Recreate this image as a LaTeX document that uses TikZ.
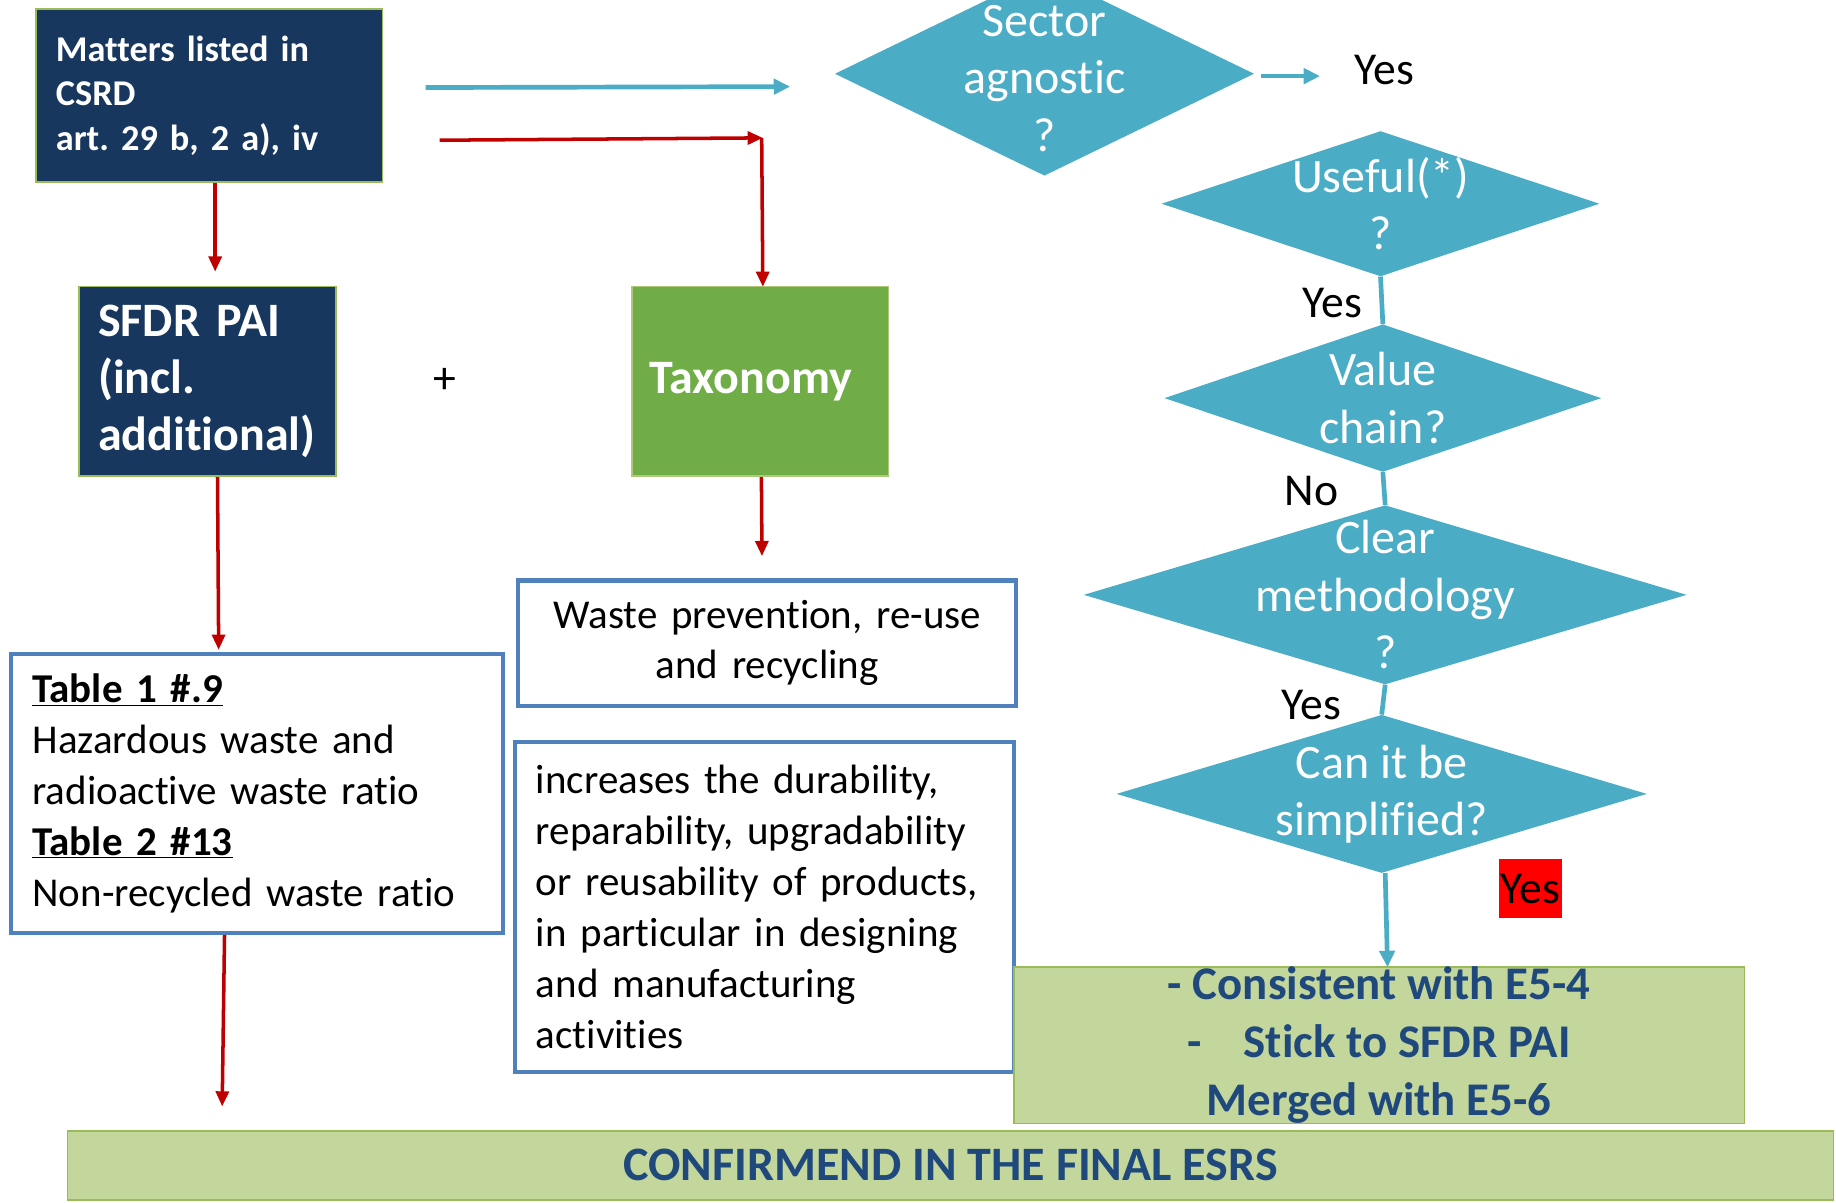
\documentclass[tikz,border=0pt]{standalone}
\usepackage{fontspec}
\setmainfont{Carlito}[Ligatures=NoCommon]
\usetikzlibrary{arrows.meta,shapes.geometric,calc}
\frenchspacing

\definecolor{navyfill}{HTML}{17375E}
\definecolor{olivegreen}{HTML}{9BBB59}
\definecolor{flowcyan}{HTML}{4BACC6}
\definecolor{arrowred}{HTML}{C00000}
\definecolor{boxblue}{HTML}{4F81BD}
\definecolor{taxgreen}{HTML}{70AD47}
\definecolor{palegreen}{HTML}{C3D69B}
\definecolor{inknavy}{HTML}{1F497D}
\definecolor{flagred}{HTML}{FF0000}

\tikzset{
  navybox/.style={draw=olivegreen, line width=1.5pt, fill=navyfill, text=white,
    inner sep=0pt, anchor=north west, align=left},
  taxbox/.style={draw=olivegreen!80!white, line width=1.5pt, fill=taxgreen, text=white,
    inner sep=0pt, anchor=north west, align=center},
  bluebox/.style={draw=boxblue, line width=3.5pt, fill=white, text=black,
    inner sep=0pt, anchor=north west},
  greenbox/.style={draw=olivegreen, line width=1.5pt, fill=palegreen, text=inknavy,
    inner sep=0pt, anchor=north west, align=center},
  dia/.style={diamond, fill=flowcyan, draw=none, inner sep=0pt},
  diatext/.style={text=white, align=center, inner sep=0pt,
    font=\fontsize{41}{49}\selectfont},
  lbl/.style={text=black, inner sep=0pt, font=\fontsize{39}{45}\selectfont},
  cyanarrow/.style={draw=flowcyan, line width=4pt,
    -{Triangle[length=14pt,width=13pt]}},
  cyanline/.style={draw=flowcyan, line width=4pt},
  redarrow/.style={draw=arrowred, line width=3pt,
    -{Triangle[length=13pt,width=11pt]}},
}

\begin{document}
\begin{tikzpicture}[x=1pt,y=-1pt]
\useasboundingbox (0,0) rectangle (1568,1027);
\clip (0,0) rectangle (1568,1027);

% --- left column -------------------------------------------------------
\node[navybox, minimum width=296pt, minimum height=148pt, text width=262pt,
      font=\bfseries\fontsize{31}{38}\selectfont] (csrd) at (30,7)
  {Matters listed in\\CSRD\\art. 29 b, 2 a), iv};

\node[navybox, minimum width=219pt, minimum height=162pt, text width=187pt,
      font=\bfseries\fontsize{41}{49}\selectfont] (sfdr) at (67,244)
  {SFDR PAI\\(incl.\\additional)};

\node[lbl] (plus) at (380,325) {+};

\node[taxbox, minimum width=219pt, minimum height=162pt,
      font=\bfseries\fontsize{41}{47}\selectfont] (tax) at (539,244)
  {Taxonomy\hspace*{16pt}};

\node[bluebox, minimum width=420pt, minimum height=238pt, text width=384pt,
      align=left, font=\fontsize{35}{43.5}\selectfont] (table) at (8,557)
  {\textbf{\underline{Table 1 \#.9}}\\Hazardous waste and\\radioactive waste ratio\\
   \textbf{\underline{Table 2 \#13}}\\Non-recycled waste ratio};

\node[bluebox, minimum width=425pt, minimum height=107pt, text width=400pt,
      align=center, font=\fontsize{35}{43}\selectfont] (waste) at (441,494)
  {Waste prevention, re-use\\and recycling};

\node[bluebox, minimum width=426pt, minimum height=282pt, text width=390pt,
      align=left, font=\fontsize{35}{43.6}\selectfont] (incr) at (438,632)
  {increases the durability,\\reparability, upgradability\\or reusability of products,\\
   in particular in designing\\and manufacturing\\activities};

% --- decision column ---------------------------------------------------
\node[dia, minimum width=358pt, minimum height=174pt] (d1) at (892,63) {};
\node[diatext, yshift=-4pt] at (d1) {Sector\\agnostic\\?};

\node[lbl] (yes1) at (1182,60) {Yes};

\node[dia, minimum width=374pt, minimum height=124pt] (d2) at (1179,174) {};
\node[diatext] at (d2) {Useful(*)\\?};

\node[dia, minimum width=373pt, minimum height=126pt] (d3) at (1181,340) {};
\node[diatext] at (d3) {Value\\chain?};

\node[dia, minimum width=515pt, minimum height=153pt] (d4) at (1183,508) {};
\node[diatext] at (d4) {Clear\\methodology\\?};

\node[dia, minimum width=453pt, minimum height=135pt] (d5) at (1180,678) {};
\node[diatext] at (d5) {Can it be\\simplified?};

\node[lbl] (yes2) at (1138,259) {Yes};
\node[lbl] (no1) at (1120,419) {No};
\node[lbl] (yes3) at (1120,602) {Yes};

\node[lbl, fill=flagred, minimum width=54pt, minimum height=50pt] (yesflag)
  at (1307,759) {Yes};

\node[greenbox, minimum width=624pt, minimum height=131pt,
      font=\bfseries\fontsize{40}{49.5}\selectfont] (result) at (865,825)
  {- Consistent with E5-4\\-\hspace{36pt}Stick to SFDR PAI\\Merged with E5-6};

\node[greenbox, minimum width=1508pt, minimum height=59pt,
      font=\bfseries\fontsize{41}{47}\selectfont] (final) at (57,965)
  {CONFIRMEND IN THE FINAL ESRS};

% --- connectors --------------------------------------------------------
\draw[cyanarrow] ($(csrd.east)+(36,-7)$) -- ($(d1.west)+(-38,11)$);

\coordinate (redknee) at ($(csrd.east)+(324,36)$);
\draw[redarrow] ($(csrd.east)+(48,38)$) -- (redknee);
\draw[redarrow] ($(redknee)+(-1,0)$) -- ($(redknee |- tax.north)+(0,1)$);

\draw[redarrow] ([xshift=5pt]csrd.south) -- ([xshift=6.5pt,yshift=12pt]sfdr.north);
\draw[redarrow] ([xshift=8.5pt]sfdr.south) -- ($(table.north)+(-33,-2)$);
\draw[redarrow] ([xshift=1pt]tax.south) -- ($(waste.north)+(-4.5,-19)$);
\draw[redarrow] ([xshift=-28pt]table.south) -- ($(table.south |- final.north)+(-30,-20)$);

\draw[cyanarrow] ($(d1.east)+(6,2)$) -- ($(yes1.west |- d1.east)+(-29,2)$);
\draw[cyanline] (d2.south) -- (d3.north);
\draw[cyanline] (d3.south) -- (d4.north);
\draw[cyanline] (d4.south) -- (d5.north);
\draw[cyanarrow] ($(d5.south)+(3,0)$) -- ($(d5.south |- result.north)+(5,1)$);

\end{tikzpicture}
\end{document}
